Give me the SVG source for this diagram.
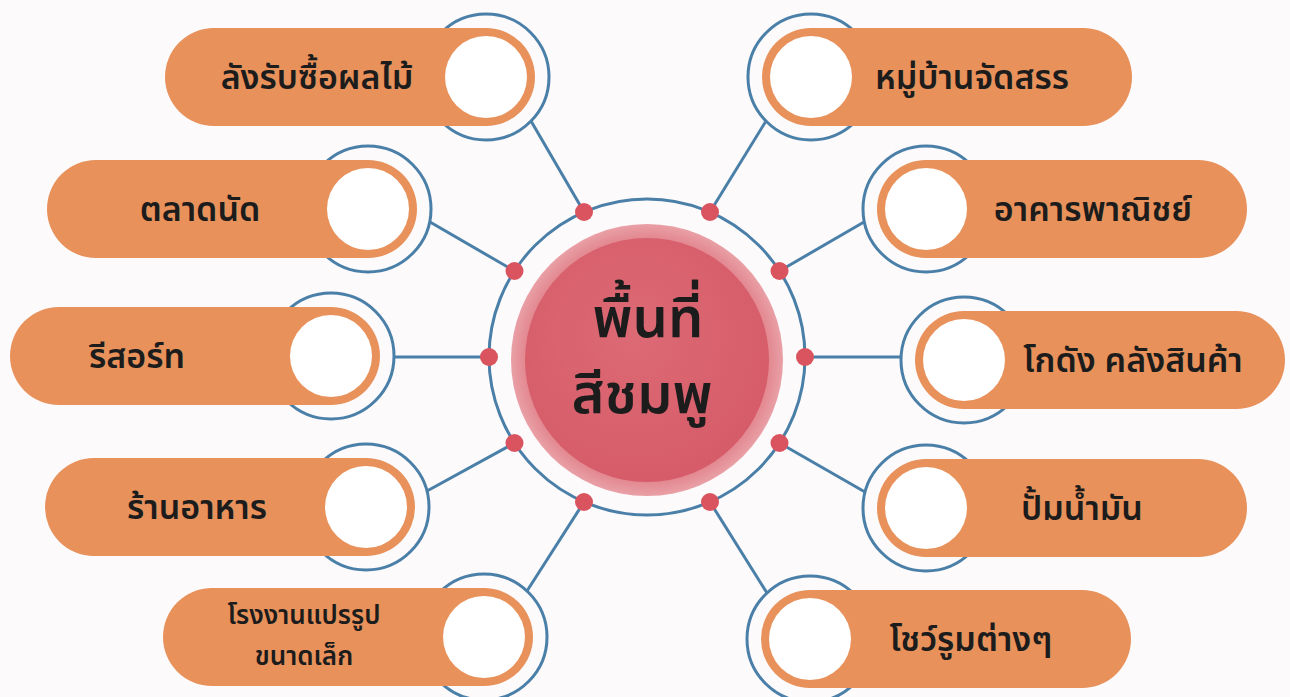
<svg xmlns="http://www.w3.org/2000/svg" width="1290" height="697" viewBox="0 0 1290 697">
  <defs>
    <style>
      .ring { fill: none; stroke: #4a7fa8; stroke-width: 3; }
      .pill { fill: #e8915a; }
      .hole { fill: #ffffff; }
      .conn { stroke: #4a7fa8; stroke-width: 3; fill: none; }
      .dot { fill: #d9545f; }
      .lbl { font-family: "Noto Sans Thai", "Noto Sans", "DejaVu Sans", sans-serif; font-size: 34px; font-weight: 600; fill: #1c1c1c; text-anchor: middle; }
      .lbl2 { font-size: 26px; }
      .big { font-family: "Noto Sans Thai", "Noto Sans", "DejaVu Sans", sans-serif; font-size: 56px; font-weight: 600; fill: #1c1c1c; text-anchor: middle; }
    </style>
    <radialGradient id="pinkOuter" cx="0.5" cy="0.5" r="0.5">
      <stop offset="0.85" stop-color="#e07d87"/>
      <stop offset="1" stop-color="#e9a0a6"/>
    </radialGradient>
    <radialGradient id="pinkInner" cx="0.45" cy="0.4" r="0.6">
      <stop offset="0" stop-color="#dc6a75"/>
      <stop offset="1" stop-color="#d65c69"/>
    </radialGradient>
  </defs>

  <rect x="0" y="0" width="1290" height="697" fill="#fdfafc"/>

  <g id="connectors">
    <circle class="conn" cx="647" cy="357" r="158"/>
    <line class="conn" x1="531" y1="121" x2="584" y2="212"/>
    <line class="conn" x1="430" y1="222" x2="514.5" y2="271"/>
    <line class="conn" x1="394" y1="357" x2="489" y2="357"/>
    <line class="conn" x1="427" y1="491" x2="514.5" y2="443"/>
    <line class="conn" x1="527" y1="591" x2="584" y2="502"/>
    <line class="conn" x1="766" y1="121" x2="710" y2="212"/>
    <line class="conn" x1="864" y1="222" x2="779.5" y2="271"/>
    <line class="conn" x1="901" y1="357" x2="805" y2="357"/>
    <line class="conn" x1="865" y1="492" x2="779.5" y2="443"/>
    <line class="conn" x1="767" y1="593" x2="710" y2="502"/>
    <circle class="dot" cx="584" cy="212" r="9"/>
    <circle class="dot" cx="710" cy="212" r="9"/>
    <circle class="dot" cx="514.5" cy="271" r="9"/>
    <circle class="dot" cx="779.5" cy="271" r="9"/>
    <circle class="dot" cx="489" cy="357" r="9"/>
    <circle class="dot" cx="805" cy="357" r="9"/>
    <circle class="dot" cx="514.5" cy="443" r="9"/>
    <circle class="dot" cx="779.5" cy="443" r="9"/>
    <circle class="dot" cx="584" cy="502" r="9"/>
    <circle class="dot" cx="710" cy="502" r="9"/>
  </g>

  <g id="center">
    <circle cx="647" cy="360" r="136" fill="url(#pinkOuter)"/>
    <circle cx="647" cy="360" r="122" fill="url(#pinkInner)"/>
    <text class="big" x="648" y="337">พื้นที่</text>
    <text class="big" x="642" y="413">สีชมพู</text>
  </g>

  <g id="node-l1">
    <circle class="ring" cx="486" cy="77" r="63"/>
    <rect class="pill" x="165" y="28" width="370" height="98" rx="49"/>
    <circle class="hole" cx="486" cy="77" r="41"/>
    <text class="lbl" x="317" y="89">ลังรับซื้อผลไม้</text>
  </g>

  <g id="node-l2">
    <circle class="ring" cx="368" cy="209" r="63"/>
    <rect class="pill" x="47" y="160" width="370" height="98" rx="49"/>
    <circle class="hole" cx="368" cy="209" r="41"/>
    <text class="lbl" x="200" y="221">ตลาดนัด</text>
  </g>

  <g id="node-l3">
    <circle class="ring" cx="331" cy="356" r="63"/>
    <rect class="pill" x="10" y="307" width="370" height="98" rx="49"/>
    <circle class="hole" cx="331" cy="356" r="41"/>
    <text class="lbl" x="137" y="368">รีสอร์ท</text>
  </g>

  <g id="node-l4">
    <circle class="ring" cx="366" cy="507" r="63"/>
    <rect class="pill" x="45" y="458" width="370" height="98" rx="49"/>
    <circle class="hole" cx="366" cy="507" r="41"/>
    <text class="lbl" x="197" y="519">ร้านอาหาร</text>
  </g>

  <g id="node-l5">
    <circle class="ring" cx="484" cy="637" r="63"/>
    <rect class="pill" x="163" y="588" width="370" height="98" rx="49"/>
    <circle class="hole" cx="484" cy="637" r="41"/>
    <text class="lbl lbl2" x="304" y="624">โรงงานแปรรูป</text>
    <text class="lbl lbl2" x="304" y="665">ขนาดเล็ก</text>
  </g>

  <g id="node-r1">
    <circle class="ring" cx="811" cy="77" r="63"/>
    <rect class="pill" x="762" y="28" width="370" height="98" rx="49"/>
    <circle class="hole" cx="811" cy="77" r="41"/>
    <text class="lbl" x="972" y="89">หมู่บ้านจัดสรร</text>
  </g>

  <g id="node-r2">
    <circle class="ring" cx="926" cy="209" r="63"/>
    <rect class="pill" x="877" y="160" width="370" height="98" rx="49"/>
    <circle class="hole" cx="926" cy="209" r="41"/>
    <text class="lbl" x="1093" y="221">อาคารพาณิชย์</text>
  </g>

  <g id="node-r3">
    <circle class="ring" cx="964" cy="360" r="63"/>
    <rect class="pill" x="915" y="311" width="370" height="98" rx="49"/>
    <circle class="hole" cx="964" cy="360" r="41"/>
    <text class="lbl" x="1133" y="372">โกดัง คลังสินค้า</text>
  </g>

  <g id="node-r4">
    <circle class="ring" cx="926" cy="508" r="63"/>
    <rect class="pill" x="877" y="459" width="370" height="98" rx="49"/>
    <circle class="hole" cx="926" cy="508" r="41"/>
    <text class="lbl" x="1082" y="520">ปั้มน้ำมัน</text>
  </g>

  <g id="node-r5">
    <circle class="ring" cx="810" cy="639" r="63"/>
    <rect class="pill" x="761" y="590" width="370" height="98" rx="49"/>
    <circle class="hole" cx="810" cy="639" r="41"/>
    <text class="lbl" x="971" y="651">โชว์รูมต่างๆ</text>
  </g>
</svg>
